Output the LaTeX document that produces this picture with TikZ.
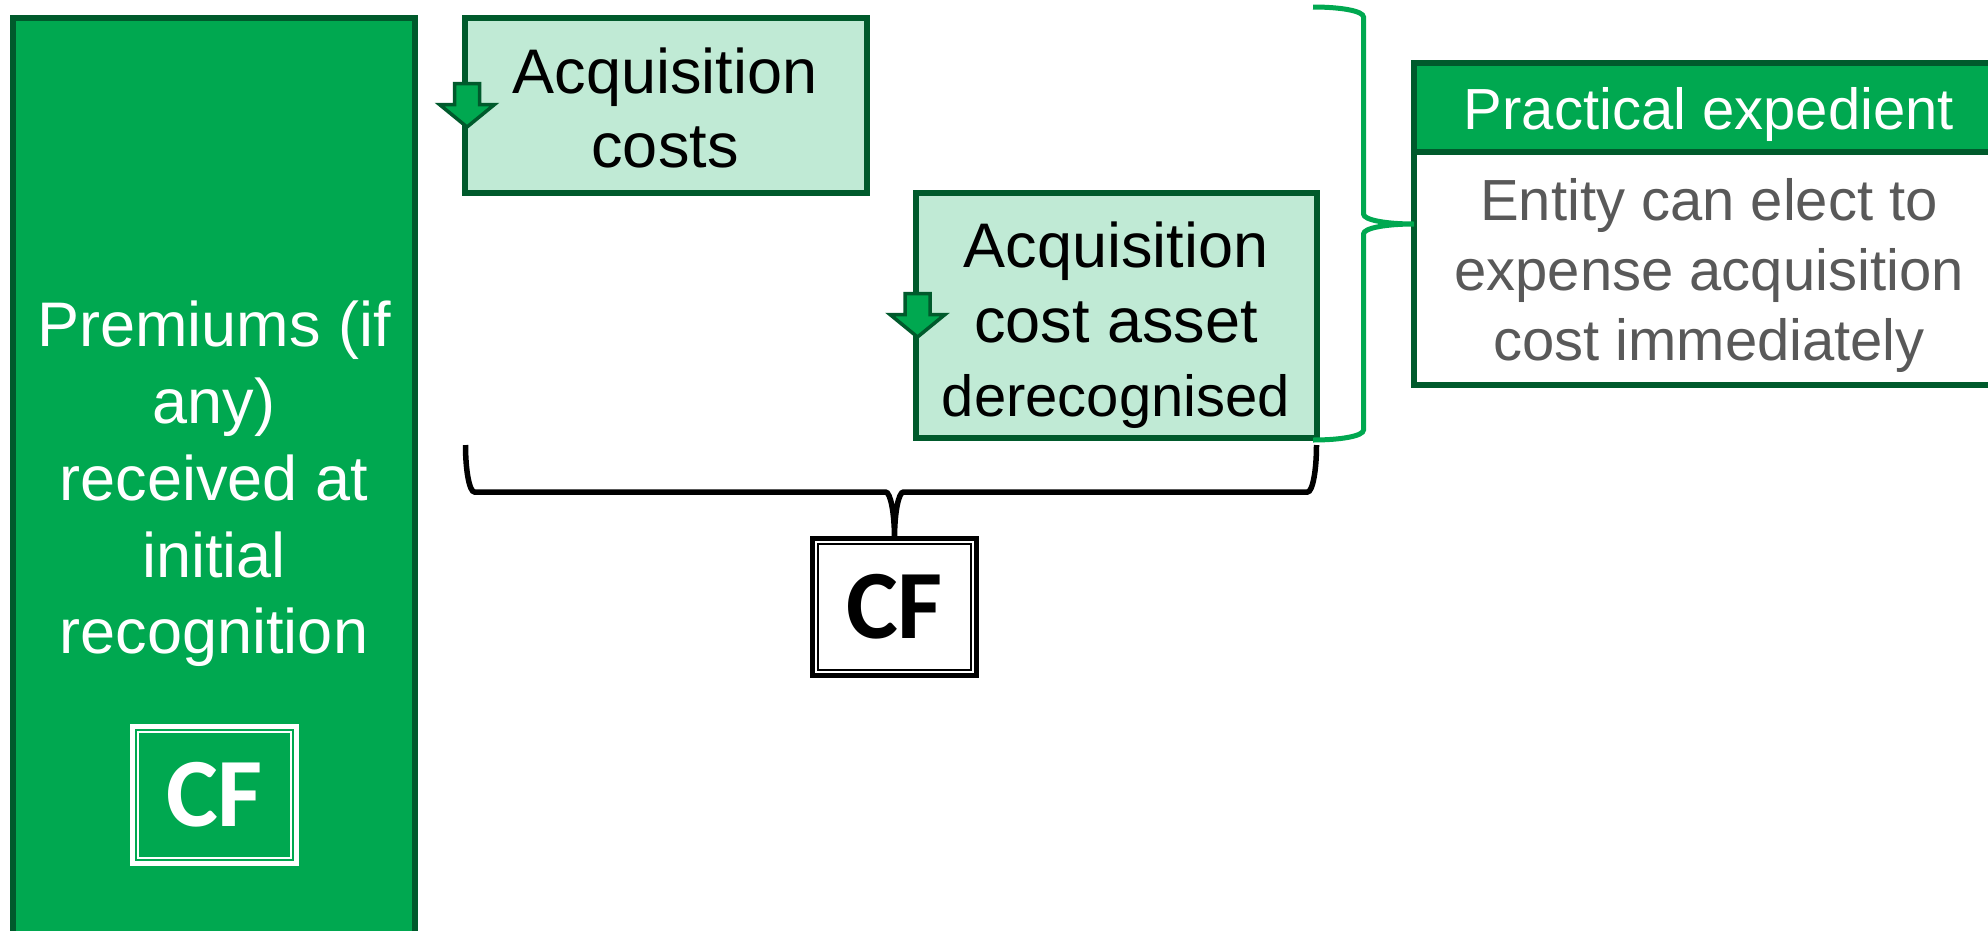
\documentclass[tikz,border=0pt]{standalone}
\usepackage{fontspec}
\setmainfont{Liberation Sans}
\newfontfamily\cffont{Carlito}
\usetikzlibrary{calc}

\definecolor{darkgreen}{RGB}{0,90,44}
\definecolor{brightgreen}{RGB}{0,168,80}
\definecolor{palegreen}{RGB}{192,234,213}
\definecolor{textgray}{RGB}{89,89,89}

\tikzset{
  greenbox/.style={draw=darkgreen, line width=6pt, inner sep=0pt, outer sep=0pt},
  premcol/.style={greenbox, fill=brightgreen},
  costbox/.style={greenbox, fill=palegreen},
  cfbox/.style={line width=4.5pt, inner sep=0pt, outer sep=0pt,
    minimum width=164pt, minimum height=137pt,
    font=\cffont\bfseries\fontsize{98}{110}\selectfont},
  bigtext/.style={anchor=base, inner sep=0pt, font=\fontsize{63}{76}\selectfont},
  smalltext/.style={anchor=base, inner sep=0pt, font=\fontsize{58}{70}\selectfont},
  dnarrow/.pic={
    \draw[draw=darkgreen, fill=brightgreen, line width=3.5pt, line join=miter]
      (-12.5,-22) -- (12.5,-22) -- (12.5,-1) -- (27.5,-1) -- (0,21.5)
      -- (-27.5,-1) -- (-12.5,-1) -- cycle;
  },
  gbrace/.style={draw=brightgreen, line width=5pt},
  bbrace/.style={draw=black, line width=5.5pt}
}

\begin{document}
\begin{tikzpicture}[x=1pt, y=-1pt]
\useasboundingbox (0,0) rectangle (1988,930);
\clip (0,0) rectangle (1988,930);

% premiums column
\node[premcol, minimum width=402.5pt, minimum height=932pt] (prem) at (213.75,484) {};
\node[bigtext, text=white] (prem1) at (214,346) {Premiums (if};
\node[bigtext, text=white] (prem2) at (214,423) {any)};
\node[bigtext, text=white] (prem3) at (214,500) {received at};
\node[bigtext, text=white] (prem4) at (214,577) {initial};
\node[bigtext, text=white] (prem5) at (214,653) {recognition};

\node[cfbox, draw=white, text=white] (cfL) at (214.5,795) {CF};
\draw[white, line width=1.4pt] ([shift={(5.5,5.5)}]cfL.north west) rectangle ([shift={(-5.5,-5.5)}]cfL.south east);

% acquisition costs
\node[costbox, minimum width=402pt, minimum height=175pt] (box1) at (666,105.5) {};
\node[bigtext] (box1a) at (665,93) {Acquisition};
\node[bigtext] (box1b) at (665,167) {costs};
\pic at ($(box1.west)+(2,0)$) {dnarrow};

% acquisition cost asset derecognised
\node[costbox, minimum width=401pt, minimum height=245pt] (box2) at (1116.5,315.5) {};
\node[bigtext] (box2a) at (1116,267) {Acquisition};
\node[bigtext] (box2b) at (1116,342) {cost asset};
\node[smalltext] (box2c) at (1116,416) {derecognised};
\pic at ($(box2.west)+(1.5,0)$) {dnarrow};

% practical expedient
\node[greenbox, fill=white, minimum width=590pt, minimum height=233pt] (pb) at (1709,268.5) {};
\node[greenbox, fill=brightgreen, minimum width=590pt, minimum height=89pt] (ph) at (1709,107.5) {};
\node[smalltext, text=white] (ph1) at (1709,129) {Practical expedient};
\node[smalltext, text=textgray] (pb1) at (1709,220) {Entity can elect to};
\node[smalltext, text=textgray] (pb2) at (1709,290) {expense acquisition};
\node[smalltext, text=textgray] (pb3) at (1709,360) {cost immediately};

% cash flows
\node[cfbox, draw=black, text=black] (cfB) at (894.5,607) {CF};
\draw[black, line width=1.4pt] ([shift={(5.5,5.5)}]cfB.north west) rectangle ([shift={(-5.5,-5.5)}]cfB.south east);

% brace grouping both acquisition items into the cash flows
\coordinate (bL) at (465.5,445);
\coordinate (bR) at (1316.5,445);
\coordinate (bT) at (cfB.north);
\draw[bbrace] (bL) .. controls +(0,26) and +(-5,0) .. ++(9,47)
  -- ($(bT)+(-9,-46.5)$) .. controls +(5,0) and +(0,-25.5) .. (bT)
  .. controls +(0,-25.5) and +(-5,0) .. ++(9,-46.5)
  -- ($(bR)+(-9,47)$) .. controls +(5,0) and +(0,26) .. (bR);

% brace pointing to the practical expedient
\coordinate (gTop) at (1313,7);
\coordinate (gBot) at (1313,440);
\coordinate (gTip) at ($(ph.north west)!0.5!(pb.south west)$);
\draw[gbrace] (gTop) .. controls +(28,0) and +(0,-6) .. ++(50.5,10)
  -- ($(gTip)+(-50.5,-10)$) .. controls +(0,6) and +(-28,0) .. (gTip)
  .. controls +(-28,0) and +(0,-6) .. ++(-50.5,10)
  -- ($(gBot)+(50.5,-10)$) .. controls +(0,6) and +(28,0) .. (gBot);
\end{tikzpicture}
\end{document}
